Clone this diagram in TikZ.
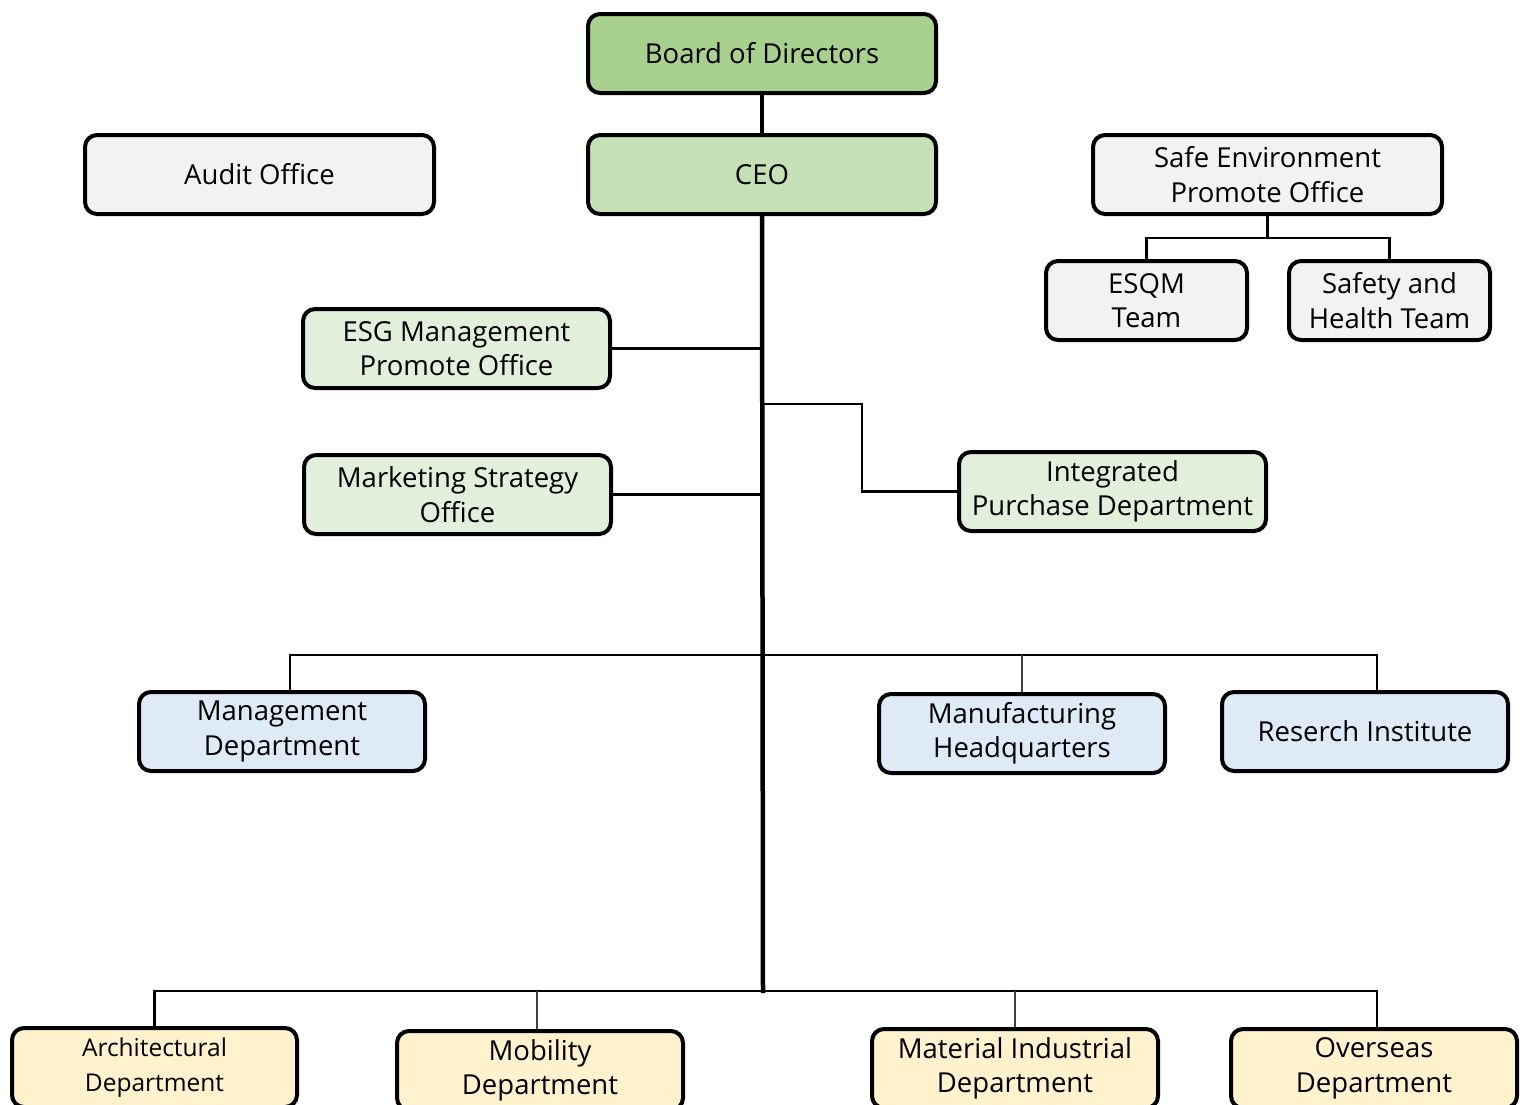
\documentclass[tikz,border=0pt]{standalone}
\usepackage{fontspec}
\setmainfont{Open Sans}
\begin{document}
\begin{tikzpicture}[x=1pt,y=-1pt,
  box/.style={draw=black, line width=4pt, rounded corners=12pt, align=center,
    inner sep=0pt, minimum height=79pt, font=\fontsize{27.5}{34.5}\selectfont},
  conn/.style={line width=2.5pt, black},
  thinconn/.style={line width=1.2pt, black!75},
  trunk/.style={line width=4.5pt, black}]
\definecolor{gA}{HTML}{A9D18E}
\definecolor{gB}{HTML}{C5E0B4}
\definecolor{gC}{HTML}{E2EFDA}
\definecolor{gy}{HTML}{F2F2F2}
\definecolor{bl}{HTML}{DEEBF7}
\definecolor{yl}{HTML}{FFF2CC}
\useasboundingbox (0,0) rectangle (1523,1104);
\clip (0,0) rectangle (1523,1104);
% nodes
\node[box, fill=gA, minimum width=348pt] (bod) at (762,53.5) {Board of Directors};
\node[box, fill=gB, minimum width=348pt] (ceo) at (762,174.5) {CEO};
\node[box, fill=gy, minimum width=349pt] (audit) at (259.5,174.5) {Audit Office};
\node[box, fill=gy, minimum width=349pt] (safe) at (1267.5,174.5) {Safe Environment\\Promote Office};
\node[box, fill=gy, minimum width=201pt] (esqm) at (1146.5,300.5) {ESQM\\Team};
\node[box, fill=gy, minimum width=201pt] (sh) at (1389.5,300.5) {Safety and\\Health Team};
\node[box, fill=gC, minimum width=307pt] (esg) at (456.5,348.5) {ESG Management\\Promote Office};
\node[box, fill=gC, minimum width=307pt] (mkt) at (457.5,494.5) {Marketing Strategy\\Office};
\node[box, fill=gC, minimum width=307pt] (ipd) at (1112.5,491.5) {Integrated\\Purchase Department};
\node[box, fill=bl, minimum width=286pt] (mgmt) at (282,731.5) {Management\\Department};
\node[box, fill=bl, minimum width=286pt] (mfg) at (1022,733.5) {Manufacturing\\Headquarters};
\node[box, fill=bl, minimum width=286pt] (ri) at (1365,731.5) {Reserch Institute};
\node[box, fill=yl, minimum width=285pt, font=\fontsize{24.5}{35}\selectfont] (arch) at (154.5,1067.5) {Architectural\\Department};
\node[box, fill=yl, minimum width=286pt] (mob) at (540,1070.5) {Mobility\\Department};
\node[box, fill=yl, minimum width=286pt] (mat) at (1015,1068.5) {Material Industrial\\Department};
\node[box, fill=yl, minimum width=286pt] (ovs) at (1374,1068.5) {Overseas\\Department};
% coordinates
\coordinate (h1) at (763,655);
\coordinate (h2) at (763,991);
\coordinate (tb) at (763,993);
\coordinate (ib) at (763,404);
% connectors
\draw[trunk] (bod.south) -- (ceo.north);
\draw[trunk] (ceo.south) -- (tb);
\draw[conn] (safe.south) -- ++(0,22) -| (esqm.north);
\draw[conn] (safe.south) ++(0,22) -| (sh.north);
\draw[conn] (esg.east) -- (esg.east -| h1);
\draw[conn] (mkt.east) -- (mkt.east -| h1);
\draw[conn] (ib) -| (862,404) |- (ipd.west);
\draw[conn] ([xshift=8pt]mgmt.north) |- (h1) -| ([xshift=12pt]ri.north);
\draw[thinconn] (mfg.north) -- (mfg.north |- h1);
\draw[conn] (arch.north) |- (h2) -| ([xshift=3pt]ovs.north);
\draw[thinconn] ([xshift=-3pt]mob.north) -- ([xshift=-3pt]mob.north |- h2);
\draw[thinconn] (mat.north) -- (mat.north |- h2);
\end{tikzpicture}
\end{document}
